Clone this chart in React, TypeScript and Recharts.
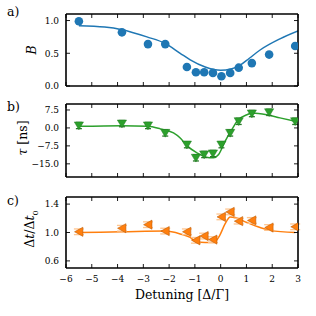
import React from "react";
import {
  ComposedChart,
  Line,
  Scatter,
  ErrorBar,
  XAxis,
  YAxis,
} from "recharts";

// Measured detuning positions shared by all three panels
const detuning = [-5.5, -3.83, -2.82, -2.15, -1.31, -0.96, -0.64, -0.3, 0.03, 0.37, 0.7, 1.21, 1.88, 2.89];

// a) bunching B
const bValues = [0.99, 0.82, 0.64, 0.64, 0.29, 0.21, 0.21, 0.2, 0.15, 0.2, 0.28, 0.35, 0.48, 0.61];
const bFitX = [-5.5, -4.5, -3.83, -2.86, -2.15, -1.57, -1.18, -0.6, 0, 0.4, 0.76, 1.1, 1.53, 2.3, 3];
const bFitY = [0.92, 0.9, 0.86, 0.75, 0.65, 0.5, 0.4, 0.29, 0.24, 0.26, 0.32, 0.42, 0.55, 0.72, 0.84];

// b) delay tau [ns]
const tauValues = [1.0, 1.8, 1.0, -2.1, -7.0, -12.5, -11.1, -10.7, -7.0, -2.1, 2.75, 6.0, 6.5, 2.75];
const tauErr = [1.3, 1.3, 1.3, 1.3, 1.3, 1.3, 1.3, 1.3, 1.3, 1.3, 1.3, 1.3, 1.3, 1.3];
const tauFitX = [-5.5, -3.83, -2.82, -2.34, -1.83, -1.57, -1.31, -0.92, -0.6, -0.28, -0.08, 0.17, 0.43, 0.69, 1.02, 1.21, 1.79, 2.3, 2.89];
const tauFitY = [0.67, 0.96, 0.67, -0.4, -2.1, -4.2, -7.4, -10.4, -12.1, -12.5, -11.1, -5.6, -0.7, 3.5, 5.5, 6.2, 5.5, 4.2, 2.75];

// c) pulse width ratio
const dtValues = [1.01, 1.06, 1.11, 1.02, 1.01, 0.89, 0.95, 0.9, 1.22, 1.29, 1.16, 1.17, 1.07, 1.08];
const dtErr = [0.04, 0.04, 0.04, 0.04, 0.04, 0.04, 0.04, 0.04, 0.04, 0.04, 0.04, 0.04, 0.04, 0.04];
const dtFitX = [-5.5, -3.83, -2.15, -1.57, -1.18, -0.96, -0.6, -0.25, -0.05, 0.17, 0.37, 0.56, 1.02, 1.53, 1.92, 2.89];
const dtFitY = [1.0, 1.01, 1.02, 0.98, 0.93, 0.87, 0.86, 0.86, 0.95, 1.12, 1.22, 1.21, 1.14, 1.07, 1.03, 1.0];

const xTicks = [-6, -5, -4, -3, -2, -1, 0, 1, 2, 3];
const bTicks = [0, 0.5, 1.0];
const tauTicks = [-15, -7.5, 0, 7.5];
const dtTicks = [0.6, 1.0, 1.4];

const FONT = "'DejaVu Serif', 'Liberation Serif', 'Noto Serif', serif";
const BLUE = "#1f77b4";
const GREEN = "#2ca02c";
const ORANGE = "#ff7f0e";

const fmt = (v: number) => v.toFixed(1).replace("-", "\u2212");
const fmtInt = (v: number) => String(v).replace("-", "\u2212");

const pts = (xs: number[], ys: number[], err?: number[]) =>
  xs.map((x, i) => ({ x, y: ys[i], e: err ? err[i] : 0 }));

// inward tick marks drawn by hand so that labels stay outside the frame
function tickFor(side: "bottom" | "top" | "left" | "right", label?: (v: number) => string) {
  return (props: any) => {
    const { x, y, payload } = props;
    const L = 4;
    if (side === "bottom")
      return (
        <g>
          <line x1={x} y1={y} x2={x} y2={y - L} stroke="#000" strokeWidth={0.9} />
          {label && (
            <text x={x} y={y + 14} textAnchor="middle" fontSize={9} fontFamily={FONT} fill="#000">
              {label(payload.value)}
            </text>
          )}
        </g>
      );
    if (side === "top")
      return <line x1={x} y1={y} x2={x} y2={y + L} stroke="#000" strokeWidth={0.9} />;
    if (side === "right")
      return <line x1={x} y1={y} x2={x - L} y2={y} stroke="#000" strokeWidth={0.9} />;
    return (
      <g>
        <line x1={x} y1={y} x2={x + L} y2={y} stroke="#000" strokeWidth={0.9} />
        {label && (
          <text x={x - 7} y={y + 3.3} textAnchor="end" fontSize={9} fontFamily={FONT} fill="#000">
            {label(payload.value)}
          </text>
        )}
      </g>
    );
  };
}

const Circle = (p: any) => <circle cx={p.cx} cy={p.cy} r={4.3} fill={BLUE} />;
const TriDown = (p: any) => (
  <path
    d={`M${p.cx - 4.6},${p.cy - 3.6} L${p.cx + 4.6},${p.cy - 3.6} L${p.cx},${p.cy + 4.2} Z`}
    fill={GREEN}
    stroke="#1f7a1f"
    strokeWidth={0.5}
  />
);
const TriLeft = (p: any) => (
  <path
    d={`M${p.cx - 4.4},${p.cy} L${p.cx + 4},${p.cy - 4.6} L${p.cx + 4},${p.cy + 4.6} Z`}
    fill={ORANGE}
    stroke="#b35400"
    strokeWidth={0.5}
  />
);

const frame = { stroke: "#000", strokeWidth: 1.6 };

// axes are 1px thick so recharts still draws them; margins are set so the
// plot area lands where the reference frame is
function Panel({
  top,
  height,
  plotTop,
  plotBottom,
  domain,
  yTicks,
  yFmt,
  showX,
  data,
  fit,
  color,
  shape,
  errColor,
  errWidth,
}: any) {
  const margin = { top: plotTop - 1, bottom: height - plotBottom - 1, left: 65, right: 17 };
  return (
    <div style={{ position: "absolute", left: 0, top }}>
      <ComposedChart width={316} height={height} margin={margin}>
        <XAxis
          xAxisId="b"
          type="number"
          dataKey="x"
          domain={[-6, 3]}
          ticks={xTicks}
          interval={0}
          height={1}
          tickSize={0}
          tickMargin={0}
          tickLine={false}
          axisLine={frame}
          tick={tickFor("bottom", showX ? fmtInt : undefined)}
          allowDataOverflow
        />
        <XAxis
          xAxisId="t"
          orientation="top"
          type="number"
          dataKey="x"
          domain={[-6, 3]}
          ticks={xTicks}
          interval={0}
          height={1}
          tickSize={0}
          tickMargin={0}
          tickLine={false}
          axisLine={frame}
          tick={tickFor("top")}
          allowDataOverflow
        />
        <YAxis
          yAxisId="l"
          type="number"
          dataKey="y"
          domain={domain}
          ticks={yTicks}
          interval={0}
          width={1}
          tickSize={0}
          tickMargin={0}
          tickLine={false}
          axisLine={frame}
          tick={tickFor("left", yFmt)}
          allowDataOverflow
        />
        <YAxis
          yAxisId="r"
          orientation="right"
          type="number"
          dataKey="y"
          domain={domain}
          ticks={yTicks}
          interval={0}
          width={1}
          tickSize={0}
          tickMargin={0}
          tickLine={false}
          axisLine={frame}
          tick={tickFor("right")}
          allowDataOverflow
        />
        <Line
          xAxisId="b"
          yAxisId="l"
          data={fit}
          dataKey="y"
          type="monotone"
          stroke={color}
          strokeWidth={1.5}
          dot={false}
          isAnimationActive={false}
        />
        <Scatter
          xAxisId="b"
          yAxisId="l"
          data={data}
          dataKey="y"
          shape={shape}
          isAnimationActive={false}
        >
          {errColor && (
            <ErrorBar dataKey="e" direction="y" width={errWidth} stroke={errColor} strokeWidth={1.3} />
          )}
        </Scatter>
      </ComposedChart>
    </div>
  );
}

const textStyle: React.CSSProperties = {
  position: "absolute",
  fontFamily: FONT,
  color: "#000",
  whiteSpace: "nowrap",
  lineHeight: 1,
};

function YLabel({ x, y, children }: any) {
  return (
    <div
      style={{
        ...textStyle,
        left: x,
        top: y,
        fontSize: 12.5,
        transform: "translate(-50%, -50%) rotate(-90deg)",
      }}
    >
      {children}
    </div>
  );
}

export default function App() {
  return (
    <div style={{ position: "absolute", left: 0, top: 0, width: 316, height: 316, background: "#fff" }}>
      <Panel
        top={0}
        height={92}
        plotTop={14}
        plotBottom={86}
        domain={[0, 1.1]}
        yTicks={bTicks}
        yFmt={fmt}
        showX={false}
        data={pts(detuning, bValues)}
        fit={pts(bFitX, bFitY)}
        color={BLUE}
        shape={Circle}
      />
      <Panel
        top={96}
        height={86}
        plotTop={8}
        plotBottom={81}
        domain={[-20.5, 10]}
        yTicks={tauTicks}
        yFmt={fmt}
        showX={false}
        data={pts(detuning, tauValues, tauErr)}
        fit={pts(tauFitX, tauFitY)}
        color={GREEN}
        shape={TriDown}
        errColor="#2a7a2a"
        errWidth={3}
      />
      <Panel
        top={188}
        height={128}
        plotTop={9}
        plotBottom={80}
        domain={[0.5, 1.5]}
        yTicks={dtTicks}
        yFmt={fmt}
        showX={true}
        data={pts(detuning, dtValues, dtErr)}
        fit={pts(dtFitX, dtFitY)}
        color={ORANGE}
        shape={TriLeft}
        errColor="#ffc58f"
        errWidth={5}
      />

      <div style={{ ...textStyle, left: 7, top: 6, fontSize: 12.5 }}>a)</div>
      <div style={{ ...textStyle, left: 7, top: 101, fontSize: 12.5 }}>b)</div>
      <div style={{ ...textStyle, left: 7, top: 195, fontSize: 12.5 }}>c)</div>

      <YLabel x={32} y={50}>
        <i>B</i>
      </YLabel>
      <YLabel x={23} y={138}>
        <i>τ</i> [ns]
      </YLabel>
      <YLabel x={32} y={229}>
        Δ<i>t</i>/Δ<i>t</i>
        <sub style={{ fontSize: 8 }}>0</sub>
      </YLabel>

      <div
        style={{
          ...textStyle,
          left: 182,
          top: 295,
          fontSize: 12.5,
          transform: "translate(-50%, -50%)",
        }}
      >
        Detuning [Δ/Γ]
      </div>
    </div>
  );
}
